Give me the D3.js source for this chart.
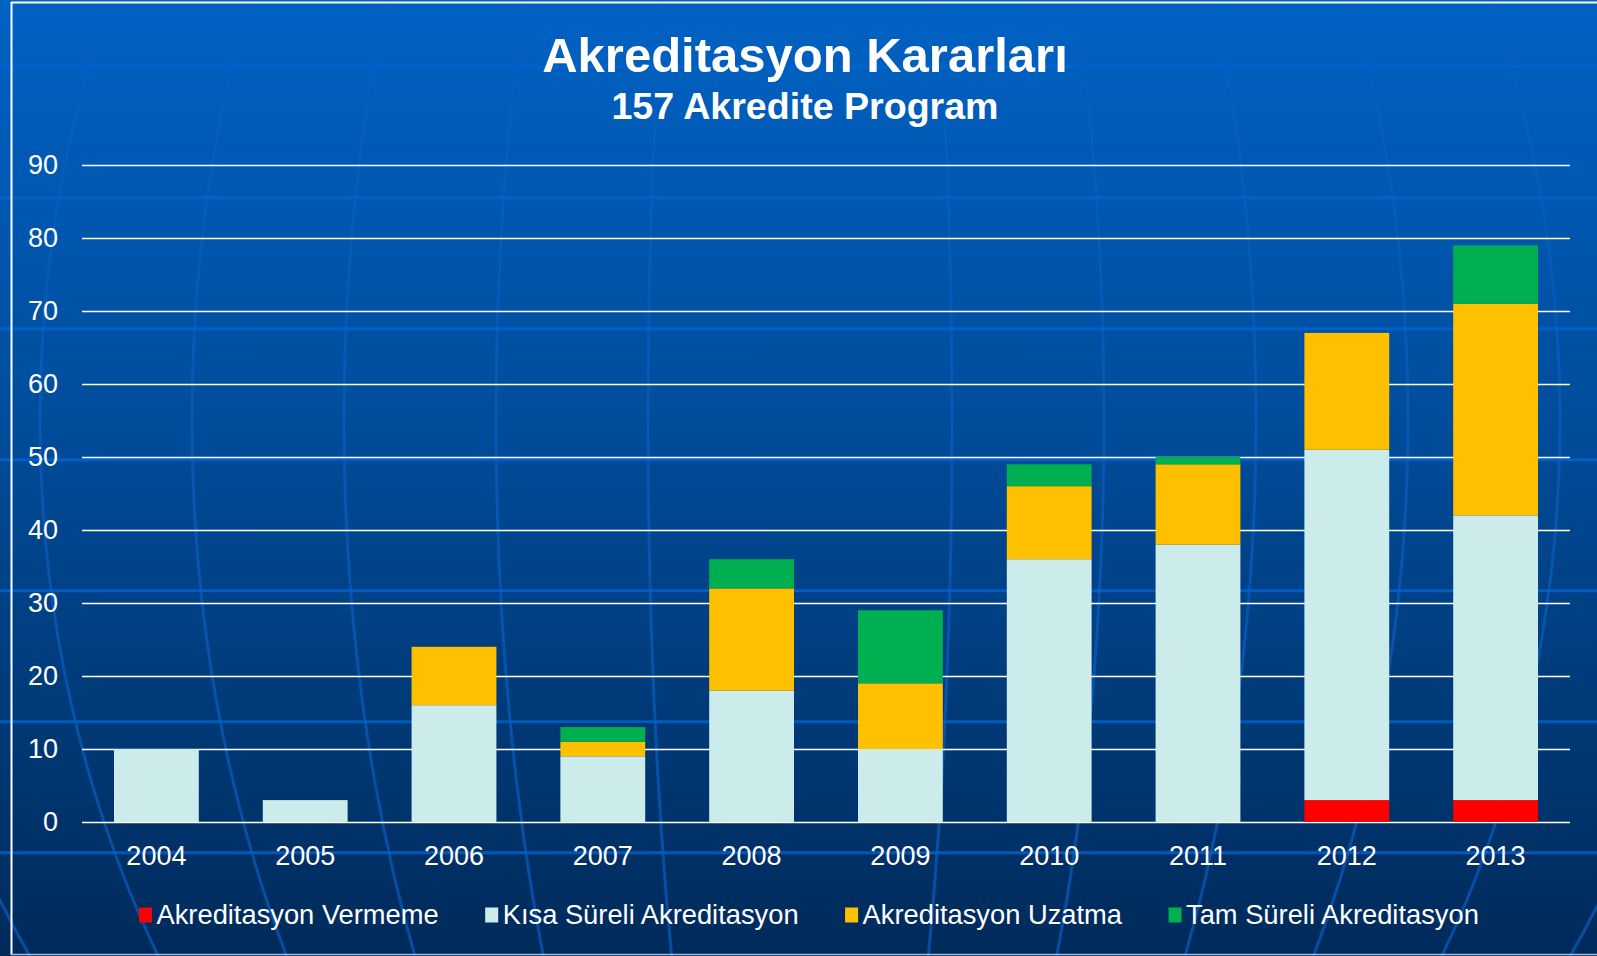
<!DOCTYPE html>
<html>
<head>
<meta charset="utf-8">
<script src="https://cdn.jsdelivr.net/npm/d3@7"></script>
<style>
  html, body { margin: 0; padding: 0; background: #003366; overflow: hidden; }
  svg { display: block; font-family: "Liberation Sans", Arial, sans-serif; }
</style>
</head>
<body>
<div id="chart"></div>
<script>
// Data
const years = ["2004", "2005", "2006", "2007", "2008", "2009", "2010", "2011", "2012", "2013"];
const vermeme = [0, 0, 0, 0, 0, 0, 0, 0, 3, 3];
const kisaSureli = [10, 3, 16, 9, 18, 10, 36, 38, 48, 39];
const uzatma = [0, 0, 8, 2, 14, 9, 10, 11, 16, 29];
const tamSureli = [0, 0, 0, 2, 4, 10, 3, 1, 0, 8];
const seriesNames = ["Akreditasyon Vermeme", "Kısa Süreli Akreditasyon", "Akreditasyon Uzatma", "Tam Süreli Akreditasyon"];
const seriesColors = ["#ff0000", "#ccecec", "#ffc000", "#00b050"];
const yTicks = [0, 10, 20, 30, 40, 50, 60, 70, 80, 90];

const W = 1597, H = 956;
const plot = {left: 82, right: 1570, top: 165, bottom: 822};

const svg = d3.select("#chart").append("svg")
    .attr("width", W)
    .attr("height", H);

// Background gradient
const defs = svg.append("defs");
const grad = defs.append("linearGradient")
    .attr("id", "bg")
    .attr("x1", 0).attr("y1", 0).attr("x2", 0).attr("y2", 1);
grad.append("stop").attr("offset", "0%").attr("stop-color", "#0062c4");
grad.append("stop").attr("offset", "45%").attr("stop-color", "#004c9a");
grad.append("stop").attr("offset", "100%").attr("stop-color", "#002a5a");

svg.append("rect")
    .attr("width", W)
    .attr("height", H)
    .attr("fill", "url(#bg)");

// Decorative globe lines of the slide template
const deco = svg.append("g").attr("fill", "none");
d3.range(0, 7).forEach(function(k) {
    deco.append("ellipse")
        .attr("cx", 800)
        .attr("cy", 420)
        .attr("rx", k * 152)
        .attr("ry", 1000)
        .attr("stroke", "#0a5cc0")
        .attr("stroke-width", 3)
        .attr("opacity", 0.7);
});
d3.range(0, 7).forEach(function(k) {
    deco.append("line")
        .attr("x1", 0).attr("x2", W)
        .attr("y1", 66.7 + k * 131).attr("y2", 66.7 + k * 131)
        .attr("stroke", "#0064d0")
        .attr("stroke-width", 3)
        .attr("opacity", 0.8);
});

// Frame
svg.append("line")
    .attr("x1", 11).attr("x2", W).attr("y1", 2.5).attr("y2", 2.5)
    .attr("stroke", "#ffffff").attr("stroke-width", 2);
svg.append("line")
    .attr("x1", 11.5).attr("x2", 11.5).attr("y1", 2).attr("y2", 955)
    .attr("stroke", "#ffffff").attr("stroke-width", 2);
svg.append("line")
    .attr("x1", 11).attr("x2", W).attr("y1", 954.5).attr("y2", 954.5)
    .attr("stroke", "#9db8dc").attr("stroke-width", 1.5);

// Title
svg.append("text")
    .attr("x", 805)
    .attr("y", 72)
    .attr("text-anchor", "middle")
    .attr("fill", "#ffffff")
    .style("font-size", "49px")
    .style("font-weight", "bold")
    .text("Akreditasyon Kararları");

svg.append("text")
    .attr("x", 805)
    .attr("y", 119)
    .attr("text-anchor", "middle")
    .attr("fill", "#ffffff")
    .style("font-size", "37.6px")
    .style("font-weight", "bold")
    .text("157 Akredite Program");

// Scales
const x = d3.scaleBand()
    .domain(years)
    .range([plot.left, plot.right])
    .paddingInner(0.43)
    .paddingOuter(0.215);

const y = d3.scaleLinear()
    .domain([0, 90])
    .range([plot.bottom, plot.top]);

// Gridlines
const yAxis = svg.append("g")
    .attr("transform", `translate(${plot.left},0)`)
    .call(d3.axisLeft(y).tickValues(yTicks).tickSize(-(plot.right - plot.left)).tickPadding(24));
yAxis.select(".domain").remove();
yAxis.selectAll(".tick line")
    .attr("stroke", "#ffffff")
    .attr("stroke-width", 1.6);
yAxis.selectAll(".tick text")
    .attr("fill", "#ffffff")
    .style("font-size", "27px")
    .style("font-family", "'Liberation Sans', Arial, sans-serif");

// Stacked bars
const table = years.map(function(yr, i) {
    return {
        year: yr,
        "Akreditasyon Vermeme": vermeme[i],
        "Kısa Süreli Akreditasyon": kisaSureli[i],
        "Akreditasyon Uzatma": uzatma[i],
        "Tam Süreli Akreditasyon": tamSureli[i]
    };
});
const stacked = d3.stack().keys(seriesNames)(table);
const color = d3.scaleOrdinal().domain(seriesNames).range(seriesColors);

svg.append("g")
  .selectAll("g")
  .data(stacked)
  .join("g")
    .attr("fill", function(d) { return color(d.key); })
  .selectAll("rect")
  .data(function(d) { return d; })
  .join("rect")
    .attr("x", function(d) { return x(d.data.year); })
    .attr("y", function(d) { return y(d[1]); })
    .attr("width", x.bandwidth())
    .attr("height", function(d) { return y(d[0]) - y(d[1]); });

// X axis labels
const xAxis = svg.append("g")
    .attr("transform", `translate(0,${plot.bottom})`)
    .call(d3.axisBottom(x).tickSize(0).tickPadding(24));
xAxis.select(".domain").remove();
xAxis.selectAll(".tick text")
    .attr("fill", "#ffffff")
    .style("font-size", "27px")
    .style("font-family", "'Liberation Sans', Arial, sans-serif");

// Legend
const legend = svg.append("g").attr("transform", "translate(139,0)");
let lx = 0;
seriesNames.forEach(function(name, i) {
    legend.append("rect")
        .attr("x", lx)
        .attr("y", 907.5)
        .attr("width", 13)
        .attr("height", 15)
        .attr("fill", seriesColors[i]);
    const t = legend.append("text")
        .attr("x", lx + 17.5)
        .attr("y", 923.5)
        .attr("fill", "#ffffff")
        .style("font-size", "27.3px")
        .text(name);
    lx += 17.5 + t.node().getComputedTextLength() + 46.5;
});
</script>
</body>
</html>
